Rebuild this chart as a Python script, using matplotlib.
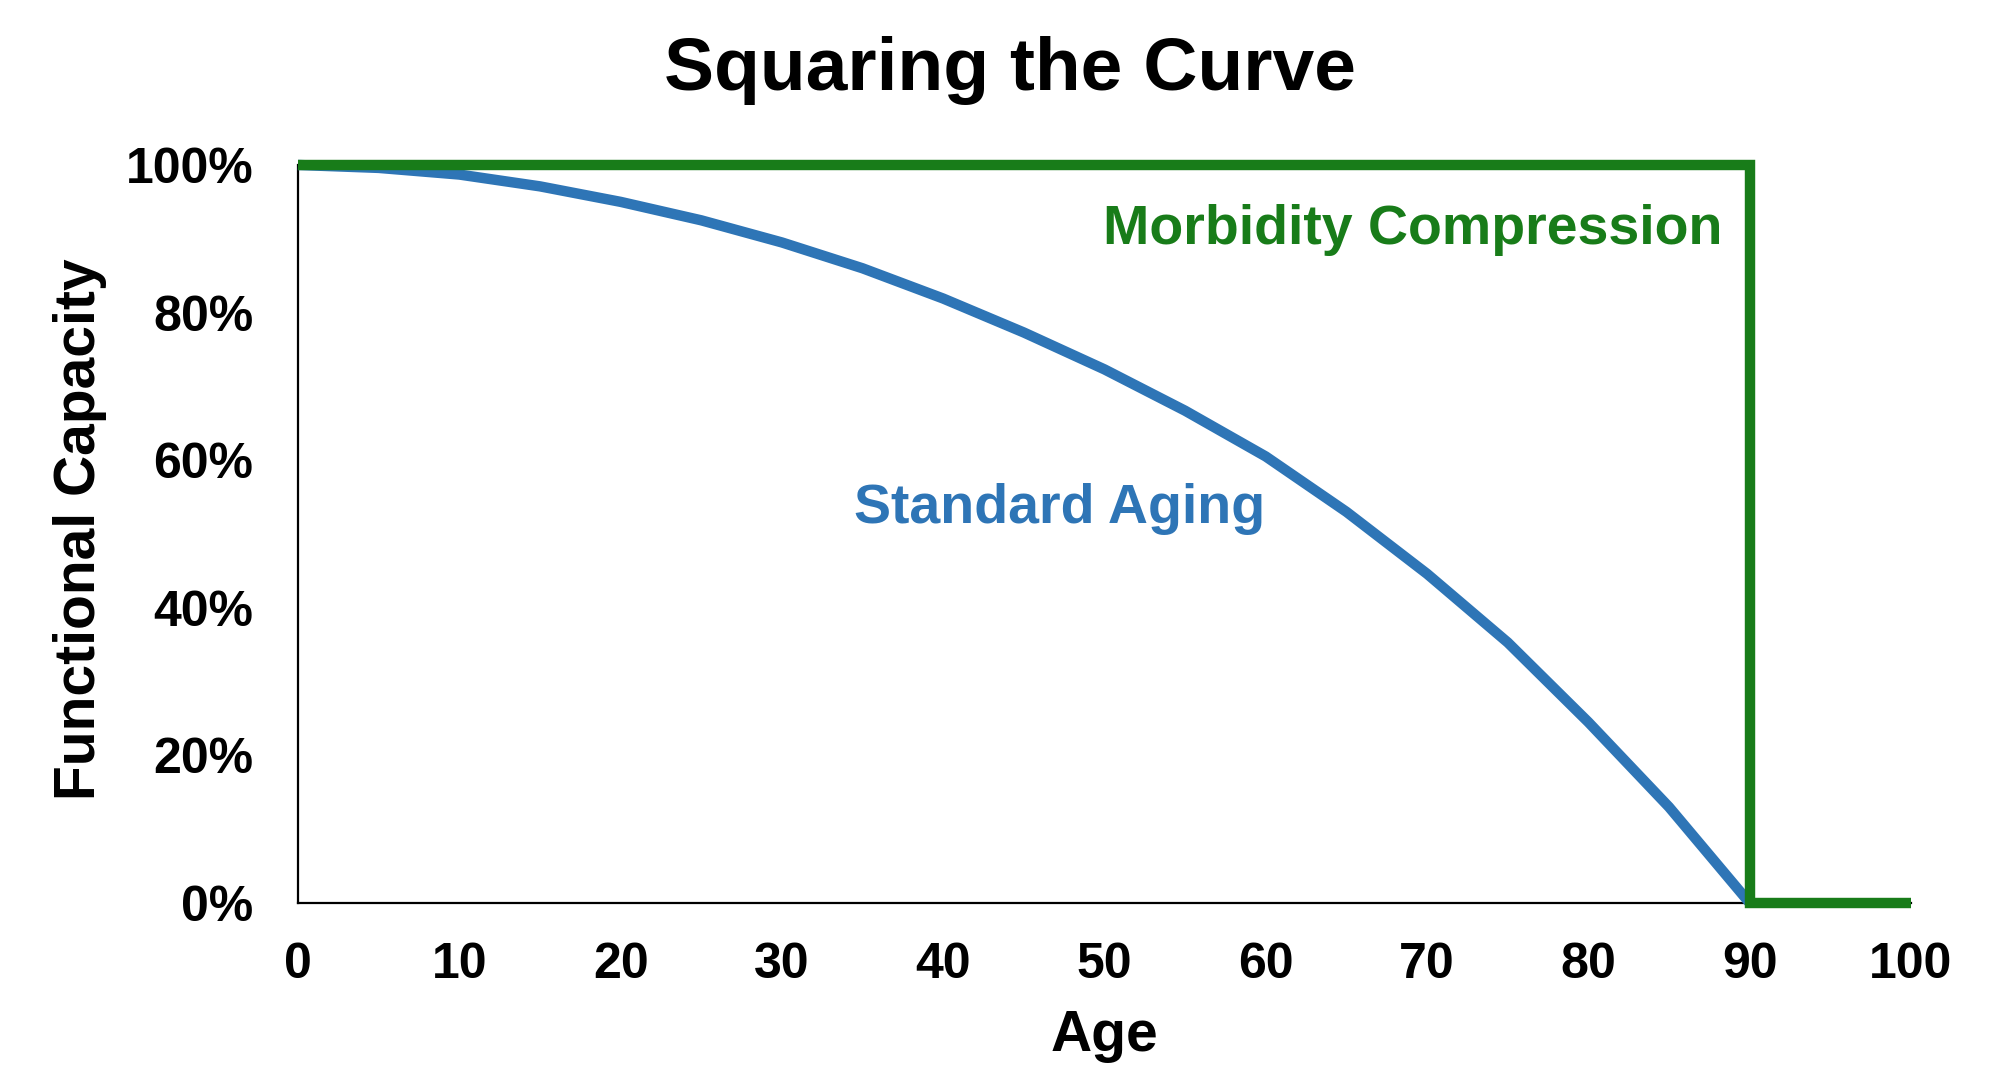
import matplotlib.pyplot as plt
import numpy as np

# Squaring the Curve - functional capacity vs age

# standard aging curve (every 5 years)
aging_age = [0, 5, 10, 15, 20, 25, 30, 35, 40, 45, 50, 55, 60, 65, 70, 75, 80, 85, 90]
aging_capacity = [100, 99.6, 98.7, 97.1, 95.0, 92.5, 89.5, 86.0, 81.9, 77.3, 72.3,
                  66.7, 60.5, 53.0, 44.6, 35.3, 24.5, 13.0, 0]

# morbidity compression: full capacity until a sudden drop
compression_age = [0, 90, 90, 100]
compression_capacity = [100, 100, 0, 0]

x_ticks = [0, 10, 20, 30, 40, 50, 60, 70, 80, 90, 100]
y_ticks = [0, 20, 40, 60, 80, 100]
y_tick_labels = ["0%", "20%", "40%", "60%", "80%", "100%"]

blue = "#2e75b6"
green = "#187c19"

plt.rcParams["font.family"] = ["Liberation Sans", "DejaVu Sans"]
plt.rcParams["font.weight"] = "bold"

fig = plt.figure(figsize=(20, 10.91), dpi=100)
ax = fig.add_axes([0.149, 0.1723, 0.8065, 0.6765])

ax.plot(aging_age, aging_capacity, color=blue, linewidth=7.5,
        solid_joinstyle="round", solid_capstyle="butt", clip_on=False, zorder=3)
ax.plot(compression_age, compression_capacity, color=green, linewidth=7.5,
        solid_joinstyle="miter", solid_capstyle="butt", clip_on=False, zorder=4)

ax.set_xlim(0, 100)
ax.set_ylim(0, 100)

ax.set_xticks(x_ticks)
ax.set_xticklabels([str(t) for t in x_ticks])
ax.set_yticks(y_ticks)
ax.set_yticklabels(y_tick_labels)
ax.tick_params(axis="x", length=0, pad=28, labelsize=36)
ax.tick_params(axis="y", length=0, pad=32, labelsize=36)
for lbl in ax.get_xticklabels() + ax.get_yticklabels():
    lbl.set_fontweight("bold")

ax.spines["top"].set_visible(False)
ax.spines["right"].set_visible(False)
ax.spines["left"].set_linewidth(1.6)
ax.spines["bottom"].set_linewidth(1.6)

ax.set_xlabel("Age", fontsize=41, fontweight="bold", va="center")
ax.xaxis.set_label_coords(0.5, -0.180)
ax.set_ylabel("Functional Capacity", fontsize=41, fontweight="bold", va="center")
ax.yaxis.set_label_coords(-0.135, 0.507)

# curve labels
ax.text(88.3, 89.3, "Morbidity Compression", color=green, fontsize=40,
        fontweight="bold", ha="right", va="baseline")
ax.text(47.2, 51.5, "Standard Aging", color=blue, fontsize=40,
        fontweight="bold", ha="center", va="baseline")

fig.suptitle("Squaring the Curve", x=0.505, y=0.935, fontsize=54,
             fontweight="bold", va="center")

fig.savefig("out.png", dpi=100, facecolor="white")
